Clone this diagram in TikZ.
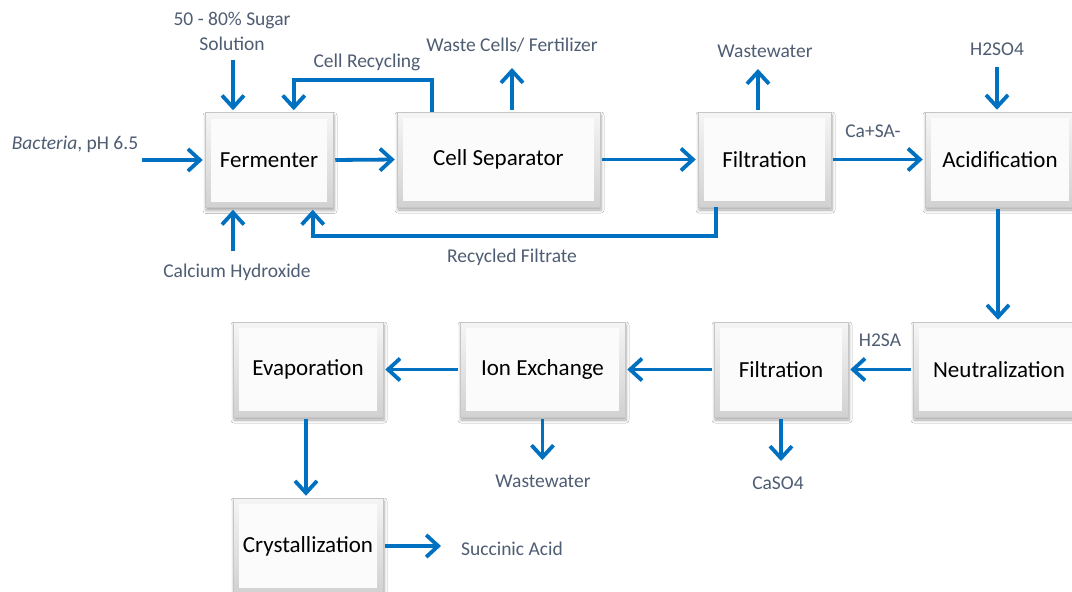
\documentclass[tikz,border=0pt]{standalone}
\usepackage{fontspec}
\setmainfont{Carlito}
\usetikzlibrary{arrows.meta,shadows.blur}
\definecolor{flowblue}{RGB}{0,112,192}
\definecolor{labelgray}{HTML}{4F5D73}

\begin{document}
\begin{tikzpicture}[x=1pt,y=-1pt,
  proc/.style={minimum width=#1, minimum height=95pt, inner sep=0pt,
    draw=gray!45, line width=0.5pt, top color=gray!8, bottom color=gray!36,
    font=\fontsize{23}{26}\selectfont, text=black,
    path picture={\fill[white!97!gray]
      ([xshift=6pt,yshift=-6pt]path picture bounding box.north west) rectangle
      ([xshift=-6pt,yshift=6pt]path picture bounding box.south east);},
    blur shadow={shadow xshift=1pt, shadow yshift=-3pt, shadow blur steps=6,
      shadow blur radius=3pt, shadow opacity=35}},
  flow/.style={draw=flowblue, line width=3.8pt, shorten <=2pt, shorten >=2pt,
    -{Straight Barb[length=12pt,width=22pt]}},
  lbl/.style={text=labelgray, font=\fontsize{19.5}{25}\selectfont, inner sep=0pt}]

\fill[white] (0,0) rectangle (1072,592);
\useasboundingbox (0,0) rectangle (1072,592);

% process units
\node[proc=128pt] (ferm)  at (269,160)   {Fermenter};
\node[proc=203pt] (csep)  at (498.5,159.5) {Cell Separator};
\node[proc=133pt] (filt1) at (764.5,159.5) {Filtration};
\node[proc=150pt] (acid)  at (1000,159.5) {Acidification};
\node[proc=150pt] (evap)  at (308,369.5) {Evaporation};
\node[proc=165pt] (ionx)  at (542.5,369.5) {Ion Exchange};
\node[proc=134pt] (filt2) at (781,369.5) {Filtration};
\node[proc=172pt] (neut)  at (999,369.5) {Neutralization};
\node[proc=150pt, minimum height=96pt] (cryst) at (308,546) {Crystallization};

% stream labels
\node[lbl, align=center] (sugar) at (232,31) {50 - 80\% Sugar\\Solution};
\node[lbl] (bact)    at (75,144)  {\textit{Bacteria}, pH 6.5};
\node[lbl] (calc)    at (237,272) {Calcium Hydroxide};
\node[lbl] (cellrec) at (367,62)  {Cell Recycling};
\node[lbl] (waste)   at (512,45)  {Waste Cells/ Fertilizer};
\node[lbl] (recfil)  at (512,257) {Recycled Filtrate};
\node[lbl] (ww1)     at (765,51)  {Wastewater};
\node[lbl] (casa)    at (873,131) {Ca+SA-};
\node[lbl] (h2so4)   at (997,49)  {H2SO4};
\node[lbl] (h2sa)    at (880,340) {H2SA};
\node[lbl] (caso4)   at (778,483) {CaSO4};
\node[lbl] (ww2)     at (543,481) {Wastewater};
\node[lbl] (succ)    at (512,549) {Succinic Acid};

% free ends of feed and product streams
\coordinate (sugarIn)  at (233,58);
\coordinate (bactIn)   at (140,160);
\coordinate (calcIn)   at (233,253);
\coordinate (wasteOut) at (512,66);
\coordinate (ww1Out)   at (758,67);
\coordinate (h2so4In)  at (997,65);
\coordinate (caso4Out) at (781,463);
\coordinate (ww2Out)   at (542.5,462);
\coordinate (succOut)  at (443,546);

% fermentation section
\draw[flow] (sugarIn) -- (sugarIn |- ferm.north);
\draw[flow] (bactIn) -- (ferm.west);
\draw[flow] (calcIn) -- (calcIn |- ferm.south);
\draw[flow] (ferm.east) -- (csep.west);
\draw[flow, shorten <=0pt] ([xshift=35pt]csep.north west) -- ++(0,-32)
  -| ([xshift=89pt]ferm.north west);
\draw[flow] (wasteOut |- csep.north) -- (wasteOut);
\draw[flow] (csep.east) -- (filt1.west);
\draw[flow] (ww1Out |- filt1.north) -- (ww1Out);
\draw[flow, shorten <=0pt] ([xshift=18pt]filt1.south west) -- ++(0,29)
  -| ([xshift=108pt]ferm.south west);

% recovery section
\draw[flow] (filt1.east) -- (acid.west);
\draw[flow] (h2so4In) -- (h2so4In |- acid.north);
\draw[flow] ([xshift=-2pt]acid.south) -- ([xshift=-2pt]acid.south |- neut.north);
\draw[flow] (neut.west) -- (filt2.east);
\draw[flow] (filt2.west) -- (ionx.east);
\draw[flow] (ionx.west) -- (evap.east);
\draw[flow] (filt2.south) -- (caso4Out);
\draw[flow] (ionx.south) -- (ww2Out);
\draw[flow] ([xshift=-2pt]evap.south) -- ([xshift=-2pt]evap.south |- cryst.north);
\draw[flow] (cryst.east) -- (succOut);
\end{tikzpicture}
\end{document}
